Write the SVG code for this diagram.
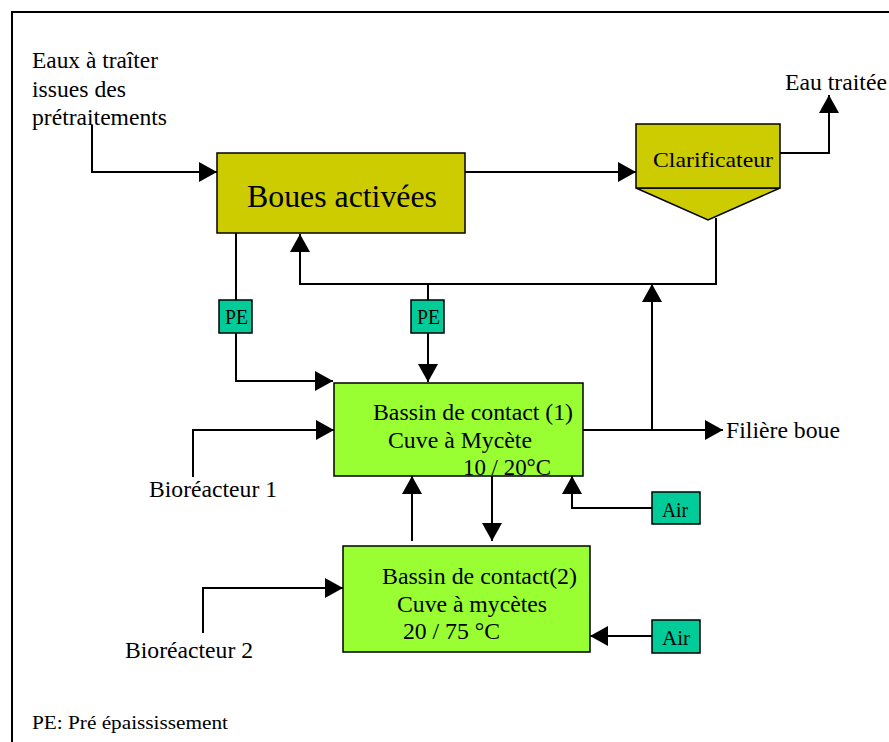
<svg xmlns="http://www.w3.org/2000/svg" width="889" height="742" viewBox="0 0 889 742">
<style>
text{font-family:"Liberation Serif","Times New Roman",serif;fill:#000}
.lbl{font-size:23px}
.box{stroke:#000;stroke-width:1.5}
.c{fill:none;stroke:#000;stroke-width:2}
.yel{fill:#CCCC00}
.grn{fill:#99FF33}
.tea{fill:#00CC99}
</style>
<defs>
<marker id="ah" markerUnits="userSpaceOnUse" markerWidth="20" markerHeight="20" viewBox="0 0 18 20" refX="18" refY="10" orient="auto">
<path d="M0,0 L18,10 L0,20 z" fill="#000"/>
</marker>
</defs>
<path d="M12,742 V12 H889" fill="none" stroke="#000" stroke-width="2"/>
<g id="connectors">
<path class="c" d="M92,125 V172 H217" marker-end="url(#ah)"/>
<path class="c" d="M465,172 H636" marker-end="url(#ah)"/>
<path class="c" d="M780,153 H829 V95" marker-end="url(#ah)"/>
<path class="c" d="M716,218 V284 H300 V234" marker-end="url(#ah)"/>
<path class="c" d="M236,233 V300"/>
<path class="c" d="M236,333 V381 H333" marker-end="url(#ah)"/>
<path class="c" d="M428,284 V300"/>
<path class="c" d="M428,333 V382" marker-end="url(#ah)"/>
<path class="c" d="M583,430 H723" marker-end="url(#ah)"/>
<path class="c" d="M652,430 V284" marker-end="url(#ah)"/>
<path class="c" d="M652,508 H572 V476" marker-end="url(#ah)"/>
<path class="c" d="M193,477 V430 H334" marker-end="url(#ah)"/>
<path class="c" d="M412,541 V476" marker-end="url(#ah)"/>
<path class="c" d="M492,476 V541" marker-end="url(#ah)"/>
<path class="c" d="M203,633 V588 H343" marker-end="url(#ah)"/>
<path class="c" d="M652,636 H590" marker-end="url(#ah)"/>
</g>
<g id="input-label">
<text class="lbl" x="32" y="68" textLength="126" lengthAdjust="spacingAndGlyphs">Eaux à traîter</text>
<text class="lbl" x="32" y="97" textLength="94" lengthAdjust="spacingAndGlyphs">issues des</text>
<text class="lbl" x="32" y="125" textLength="135" lengthAdjust="spacingAndGlyphs">prétraitements</text>
</g>
<g id="boues-activees">
<rect class="box yel" x="217" y="153" width="248" height="80"/>
<text x="247" y="207" font-size="31" textLength="190" lengthAdjust="spacingAndGlyphs">Boues activées</text>
</g>
<g id="clarificateur">
<polygon class="box yel" points="636,188 780,188 708,220"/>
<rect class="box yel" x="636" y="124" width="144" height="64"/>
<text x="653" y="167" font-size="22" textLength="120" lengthAdjust="spacingAndGlyphs">Clarificateur</text>
</g>
<g id="eau-traitee">
<text class="lbl" x="785" y="90" textLength="102" lengthAdjust="spacingAndGlyphs">Eau traitée</text>
</g>
<g id="pe1">
<rect class="box tea" x="219" y="300" width="33" height="33"/>
<text x="225" y="324" font-size="20" textLength="23" lengthAdjust="spacingAndGlyphs">PE</text>
</g>
<g id="pe2">
<rect class="box tea" x="411" y="300" width="33" height="33"/>
<text x="417" y="324" font-size="20" textLength="23" lengthAdjust="spacingAndGlyphs">PE</text>
</g>
<g id="bassin1">
<rect class="box grn" x="334" y="383" width="249" height="93"/>
<text class="lbl" x="373" y="420" textLength="200" lengthAdjust="spacingAndGlyphs">Bassin de contact (1)</text>
<text class="lbl" x="388" y="448" textLength="144" lengthAdjust="spacingAndGlyphs">Cuve à Mycète</text>
<text class="lbl" x="463" y="475" textLength="88" lengthAdjust="spacingAndGlyphs">10 / 20°C</text>
</g>
<g id="filiere-boue">
<text class="lbl" x="726" y="438" textLength="114" lengthAdjust="spacingAndGlyphs">Filière boue</text>
</g>
<g id="air1">
<rect class="box tea" x="652" y="492" width="48" height="32"/>
<text x="662" y="517" font-size="20" textLength="26" lengthAdjust="spacingAndGlyphs">Air</text>
</g>
<g id="bioreacteur1">
<text class="lbl" x="149" y="497" textLength="128" lengthAdjust="spacingAndGlyphs">Bioréacteur 1</text>
</g>
<g id="bassin2">
<rect class="box grn" x="343" y="546" width="247" height="106"/>
<text class="lbl" x="382" y="584" textLength="195" lengthAdjust="spacingAndGlyphs">Bassin de contact(2)</text>
<text class="lbl" x="397" y="612" textLength="150" lengthAdjust="spacingAndGlyphs">Cuve à mycètes</text>
<text class="lbl" x="403" y="639" textLength="97" lengthAdjust="spacingAndGlyphs">20 / 75 °C</text>
</g>
<g id="air2">
<rect class="box tea" x="652" y="620" width="48" height="33"/>
<text x="662" y="645" font-size="20" textLength="28" lengthAdjust="spacingAndGlyphs">Air</text>
</g>
<g id="bioreacteur2">
<text class="lbl" x="125" y="658" textLength="128" lengthAdjust="spacingAndGlyphs">Bioréacteur 2</text>
</g>
<g id="legend">
<text x="32" y="729" font-size="19" textLength="196" lengthAdjust="spacingAndGlyphs">PE: Pré épaississement</text>
</g>
</svg>
